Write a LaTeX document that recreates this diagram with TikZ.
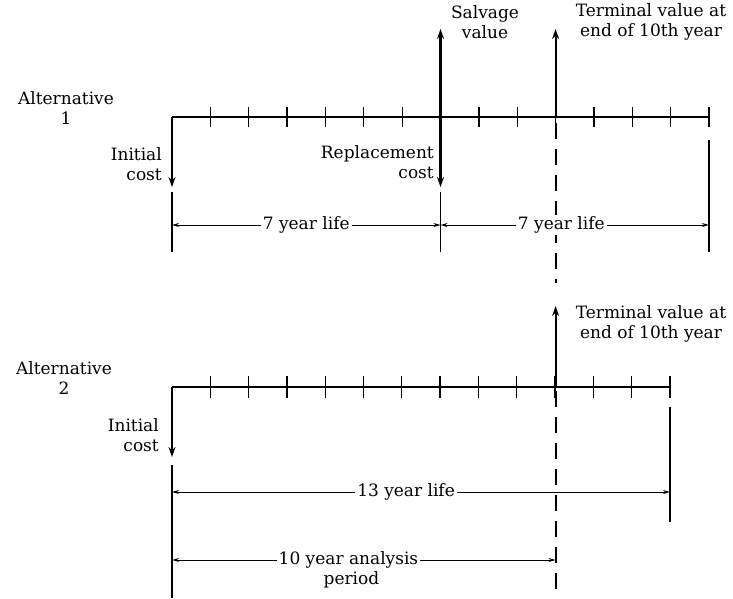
\documentclass[tikz,border=0pt]{standalone}
\usepackage{fontspec}
\setmainfont{DejaVu Serif}
\usetikzlibrary{arrows.meta,calc}
\begin{document}
\begin{tikzpicture}[x=1pt,y=-1pt,
  axis/.style={line width=1.8pt},
  tickmark/.style={line width=1.3pt},
  bigarrow/.style={line width=2.2pt,-{Stealth[length=10pt,width=7pt]}},
  ext/.style={line width=1.1pt},
  dim/.style={line width=1pt,{Stealth[length=7pt,width=4pt]}-{Stealth[length=7pt,width=4pt]}},
  dimtext/.style={fill=white,inner sep=2pt,font=\fontsize{17}{20}\selectfont},
  lbl/.style={font=\fontsize{17}{20}\selectfont,inner sep=0pt},
  dashv/.style={line width=2.2pt,dash pattern=on 16pt off 10pt},
]
\useasboundingbox (0,0) rectangle (733,598);
\fill[white] (0,0) rectangle (733,598);

% ---------- Alternative 1 ----------
\coordinate (a0) at (172,117);
\coordinate (a14) at (709,117);
\draw[axis] (a0) -- (a14);
\foreach \i in {1,...,14} {
  \coordinate (at\i) at ($(a0)+(\i*38.36,0)$);
  \draw[tickmark] ($(at\i)+(0,-10)$) -- ($(at\i)+(0,10)$);
}
\node[lbl,align=center] (alt1) at (66,108) {Alternative\\1};

% cost / value arrows
\coordinate (ic1) at (172,187);
\draw[bigarrow] (a0) -- (ic1);
\node[lbl,align=right,anchor=east] (ic1l) at (162,164) {Initial\\cost};

\coordinate (rc) at (at7|-ic1);
\draw[bigarrow] (at7) -- (rc);
\node[lbl,align=right,anchor=east] (rcl) at (434,162) {Replacement\\cost};

\coordinate (sv) at ($(at7)+(0,-88)$);
\draw[bigarrow] (at7) -- (sv);
\node[lbl,align=center] (svl) at (485,22) {Salvage\\value};

\coordinate (tv1) at ($(at10)+(0,-88)$);
\draw[bigarrow] (at10) -- (tv1);
\node[lbl,align=center] (tv1l) at (651,22) {Terminal value at\\end of 10th year};

% extension lines
\coordinate (e1a) at (172,192); \coordinate (e1b) at (172,252);
\coordinate (e2a) at (at7|-e1a); \coordinate (e2b) at (at7|-e1b);
\coordinate (e3a) at (709,140); \coordinate (e3b) at (709,252);
\draw[ext] (e1a) -- (e1b);
\draw[ext] (e2a) -- (e2b);
\draw[ext] (e3a) -- (e3b);

% dashed line (top)
\coordinate (da) at ($(at10)+(0,6)$);
\coordinate (db) at (at10|-0,283);
\draw[dashv] (da) -- (db);

% dimension lines
\coordinate (d1) at (172,225);
\coordinate (d2) at (at7|-d1);
\coordinate (d3) at (709,225);
\draw[dim] (d1) -- (d2) node[dimtext,pos=0.5] (y7a) {7 year life};
\draw[dim] (d2) -- (d3) node[dimtext,pos=0.45] (y7b) {7 year life};

% ---------- Alternative 2 ----------
\coordinate (b0) at (172,387);
\coordinate (b13) at (670,387);
\draw[axis] (b0) -- (b13);
\foreach \i in {1,...,13} {
  \coordinate (bt\i) at ($(b0)+(\i*38.3,0)$);
  \draw[tickmark] ($(bt\i)+(0,-11)$) -- ($(bt\i)+(0,11)$);
}
\node[lbl,align=center] (alt2) at (64,378) {Alternative\\2};

\coordinate (ic2) at (172,457);
\draw[bigarrow] (b0) -- (ic2);
\node[lbl,align=right,anchor=east] (ic2l) at (159,435) {Initial\\cost};

\coordinate (tv2) at (at10|-0,306);
\draw[bigarrow] (at10|-b0) -- (tv2);
\node[lbl,align=center] (tv2l) at (651,324) {Terminal value at\\end of 10th year};

% extension lines
\coordinate (f1a) at (172,465); \coordinate (f1b) at (172,598);
\coordinate (f2a) at (670,407); \coordinate (f2b) at (670,522);
\draw[ext] (f1a) -- (f1b);
\draw[ext] (f2a) -- (f2b);

% dimension lines
\coordinate (g1) at (172,492);
\coordinate (g2) at (670,492);
\draw[dim] (g1) -- (g2) node[dimtext,pos=0.47] (y13) {13 year life};
\coordinate (h1) at (172,560);
\coordinate (h2) at (at10|-h1);
\draw[dim] (h1) -- (h2) node[dimtext,pos=0.46] (y10) {10 year analysis};
\node[lbl] (per) at ($(y10)+(3,20)$) {period};

% dashed line (bottom)
\coordinate (dc) at ($(at10|-b0)+(0,4)$);
\coordinate (dd) at (at10|-f1b);
\draw[dashv] (dc) -- (dd);
\end{tikzpicture}
\end{document}
